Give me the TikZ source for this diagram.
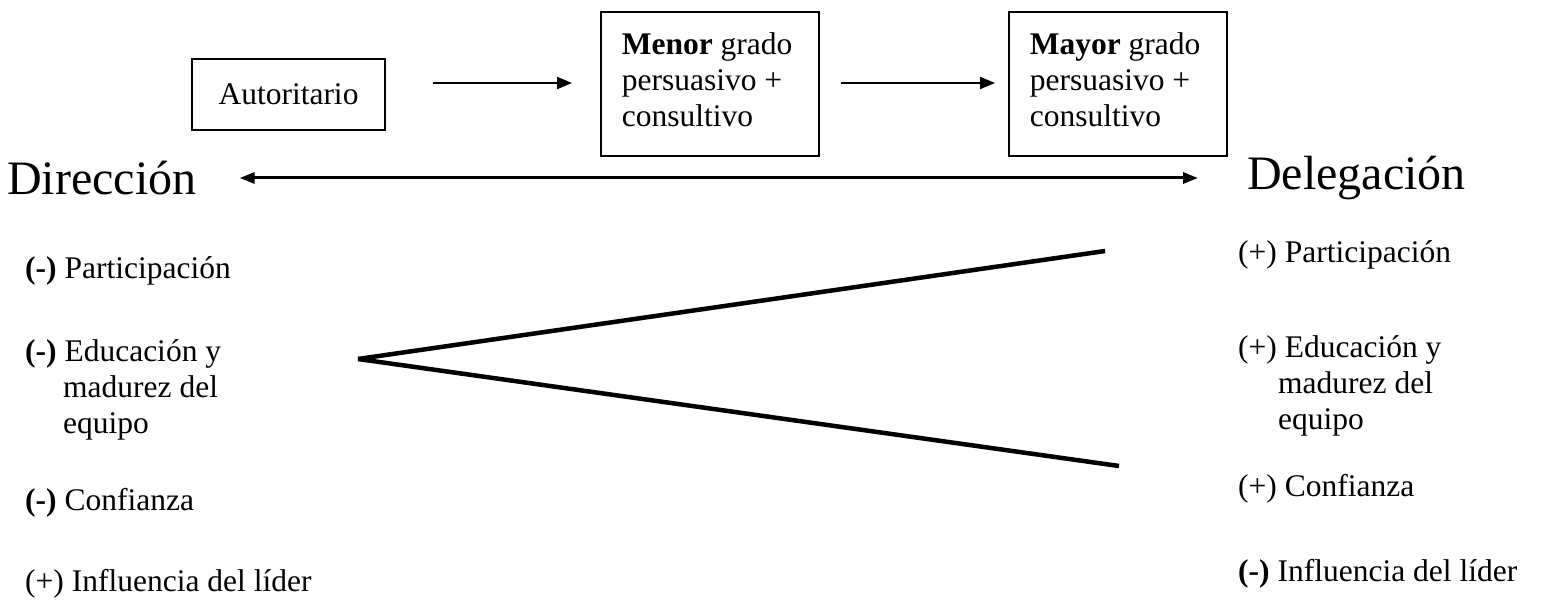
\documentclass[tikz,border=0pt]{standalone}
\usepackage{fontspec}
\setmainfont{Liberation Serif}
\usetikzlibrary{arrows.meta,calc}

% three left-aligned lines of fixed width, with some extra room below
\newcommand\stagelines[3]{\vtop{\hbox to 176pt{#1\hfil}\hbox to 176pt{#2\hfil}\hbox to 176pt{#3\hfil}\vskip 9pt}}

\begin{document}
\begin{tikzpicture}[x=1pt,y=-1pt,
  every node/.style={font=\fontsize{31.5}{36}\selectfont, inner sep=0pt},
  stagebox/.style={draw, line width=1.6pt, minimum width=218pt,
    minimum height=144pt, anchor=north west},
  flowarrow/.style={line width=2pt, -{Triangle[length=15pt,width=12pt]}},
  axisarrow/.style={line width=3pt, {Triangle[length=15pt,width=11pt]}-{Triangle[length=15pt,width=11pt]}},
  wedge/.style={line width=4.5pt, line cap=butt},
  pole/.style={font=\fontsize{48}{54}\selectfont, anchor=base west},
  factor/.style={anchor=base west}
]
\useasboundingbox (0,0) rectangle (1546,601);

% leadership styles along the top
\node[draw, line width=1.6pt, minimum width=193pt, minimum height=71pt] (auto) at (288.5,94.5) {Autoritario};
\node[stagebox] (menor) at (600,11) {\stagelines{\textbf{Menor} grado}{persuasivo +}{consultivo}};
\node[stagebox] (mayor) at (1008,11) {\stagelines{\textbf{Mayor} grado}{persuasivo +}{consultivo}};

\draw[flowarrow, shorten <=47pt, shorten >=28pt] (auto.east |- 0,83) -- (menor.west |- 0,83);
\draw[flowarrow, shorten <=21pt, shorten >=13pt] (menor.east |- 0,83) -- (mayor.west |- 0,83);

% the two poles and the axis between them
\node[pole] (dir) at (7,195) {Dirección};
\node[pole] (del) at (1247,190) {Delegación};
\draw[axisarrow] ($(dir.base east)+(43,-17)$) -- ($(del.base west)+(-49,-12)$);

% widening wedge
\coordinate (apex) at (358,359);
\coordinate (wtop) at (1105,251);
\coordinate (wbot) at (1119,466);
\draw[wedge] (apex) -- (wtop);
\draw[wedge] (apex) -- (wbot);

% factors on the left
\node[factor] (lpart) at (25,279) {\textbf{(-)} Participación};
\node[factor] (ledu) at (25,361) {\vtop{\hbox{\textbf{(-)} Educación y}\hbox{\hspace*{38pt}madurez del}\hbox{\hspace*{38pt}equipo}}};
\node[factor] (lconf) at (25,510) {\textbf{(-)} Confianza};
\node[factor] (linf) at (25,591) {(+) Influencia del líder};

% factors on the right
\node[factor] (rpart) at (1238,263) {(+) Participación};
\node[factor] (redu) at (1238,357) {\vtop{\hbox{(+) Educación y}\hbox{\hspace*{40pt}madurez del}\hbox{\hspace*{40pt}equipo}}};
\node[factor] (rconf) at (1238,496) {(+) Confianza};
\node[factor] (rinf) at (1238,581) {\textbf{(-)} Influencia del líder};
\end{tikzpicture}
\end{document}
